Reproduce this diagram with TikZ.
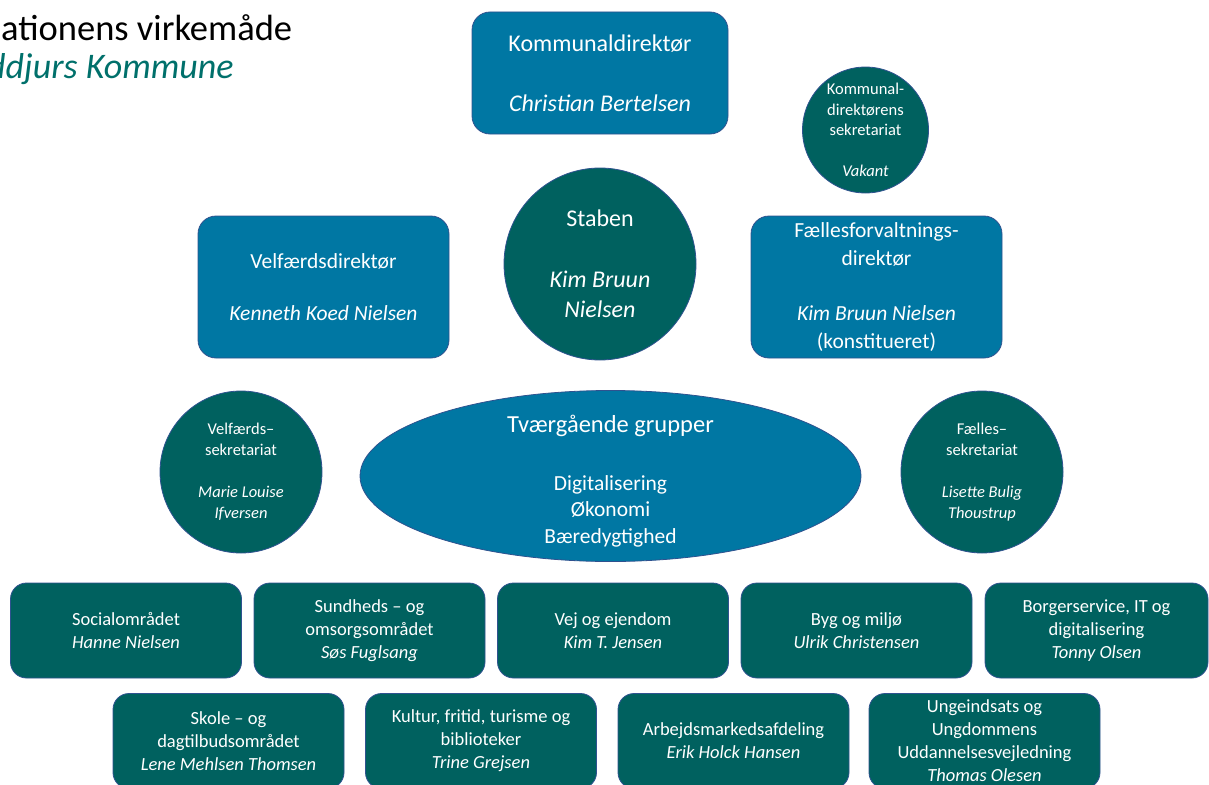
\documentclass[tikz,border=0pt]{standalone}
\usepackage{fontspec}
\setmainfont{Carlito}
\usetikzlibrary{shapes.geometric}
\definecolor{kdblue}{HTML}{0077A3}
\definecolor{kdteal}{HTML}{00615F}
\definecolor{kdedge}{HTML}{2F528F}
\definecolor{kdtitle}{HTML}{00706B}
\newcommand{\fs}[2]{\fontsize{#1}{#2}\selectfont}

\begin{document}
\begin{tikzpicture}[x=1pt,y=-1pt,
	bluebox/.style={draw=kdedge,line width=0.8pt,fill=kdblue,text=white,rounded corners=18pt,align=center,inner sep=0pt},
	tealbox/.style={draw=kdedge,line width=0.8pt,fill=kdteal,text=white,rounded corners=16pt,align=center,inner sep=0pt,minimum width=231pt,minimum height=95pt,font=\fs{18.5}{23}},
	tealcirc/.style={draw=kdedge,line width=0.8pt,fill=kdteal,text=white,circle,align=center,inner sep=0pt},
	blueoval/.style={draw=kdedge,line width=0.8pt,fill=kdblue,ellipse,inner sep=0pt}]
	\useasboundingbox (0,0) rectangle (1209,784);
	% titel
	\node[anchor=base west,inner sep=0pt,font=\fs{36.5}{40}] (titel) at (1,41) {ationens virkemåde};
	\node[anchor=base west,inner sep=0pt,font=\fs{36}{40}\itshape,text=kdtitle] (kommune) at (-13,78) {ddjurs Kommune};
	% ledelse
	\node[bluebox,minimum width=256pt,minimum height=122pt,font=\fs{24}{30}] (kd) at (600,73) {Kommunaldirektør\\[30pt]\itshape Christian Bertelsen};
	\node[tealcirc,minimum size=126pt,font=\fs{16.5}{20.5}] (kdsek) at (865.5,130) {Kommunal-\\direktørens\\sekretariat\\[20.5pt]\itshape Vakant};
	\node[tealcirc,minimum size=192pt,font=\fs{24}{30.5}] (staben) at (600,264) {Staben\\[30.5pt]\itshape Kim Bruun\\\itshape Nielsen};
	\node[bluebox,minimum width=251pt,minimum height=142pt,font=\fs{21.5}{26}] (velf) at (323.5,287) {Velfærdsdirektør\\[26pt]\itshape Kenneth Koed Nielsen};
	\node[bluebox,minimum width=251pt,minimum height=142pt,font=\fs{21.5}{28.5}] (faelles) at (876.5,287) {Fællesforvaltnings-\\direktør\\[26pt]\itshape Kim Bruun Nielsen\\(konstitueret)};
	% sekretariater og grupper
	\node[tealcirc,minimum size=162pt,font=\fs{16.5}{21}] (velfsek) at (241,472) {Velfærds–\\sekretariat\\[21pt]\itshape Marie Louise\\\itshape Ifversen};
	\node[tealcirc,minimum size=162pt,font=\fs{16.5}{21}] (faellessek) at (982,472) {Fælles–\\sekretariat\\[21pt]\itshape Lisette Bulig\\\itshape Thoustrup};
	\node[blueoval,minimum width=501pt,minimum height=171pt] (grupper) at (610.5,476) {};
	\node[align=center,text=white,inner sep=0pt,font=\fs{21.5}{26.5}] (gruppertekst) at ([yshift=-5pt]grupper.center) {{\fs{24.5}{28}Tværgående grupper}\\[31pt]Digitalisering\\Økonomi\\Bæredygtighed};
	% omraader, raekke 1
	\node[tealbox] (social) at (126,630.5) {Socialområdet\\\itshape Hanne Nielsen};
	\node[tealbox] (sundhed) at (369.5,630.5) {Sundheds – og\\omsorgsområdet\\\itshape Søs Fuglsang};
	\node[tealbox] (vej) at (613,630.5) {Vej og ejendom\\\itshape Kim T. Jensen};
	\node[tealbox] (byg) at (856.5,630.5) {Byg og miljø\\\itshape Ulrik Christensen};
	\node[tealbox,minimum width=223pt] (borger) at (1096.5,630.5) {Borgerservice, IT og\\digitalisering\\\itshape Tonny Olsen};
	% omraader, raekke 2
	\node[tealbox] (skole) at (228.5,741) {Skole – og\\dagtilbudsområdet\\\itshape Lene Mehlsen Thomsen};
	\node[tealbox] (kultur) at (481,741) {Kultur, fritid, turisme og\\biblioteker\\\itshape Trine Grejsen};
	\node[tealbox] (arbejd) at (733.5,741) {Arbejdsmarkedsafdeling\\\itshape Erik Holck Hansen};
	\node[tealbox] (unge) at (984.5,741) {Ungeindsats og\\Ungdommens\\Uddannelsesvejledning\\\itshape Thomas Olesen};
\end{tikzpicture}
\end{document}
